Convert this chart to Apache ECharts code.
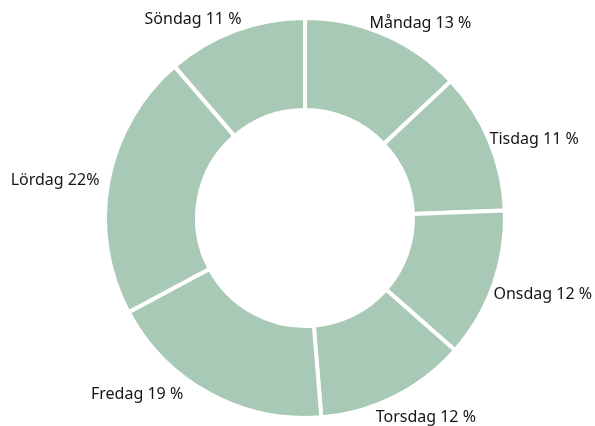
<!DOCTYPE html>
<html>
<head>
<meta charset="utf-8">
<script src="https://cdn.jsdelivr.net/npm/echarts@6/dist/echarts.min.js"></script>
<style>
	html, body { margin: 0; padding: 0; background: #fff; }
	#chart { width: 595px; height: 426px; }
</style>
</head>
<body>
<div id="chart"></div>
<script>
	// dagar och andelar (procent)
	var days = ['Måndag', 'Tisdag', 'Onsdag', 'Torsdag', 'Fredag', 'Lördag', 'Söndag'];
	var shares = [13.0, 11.4, 12.1, 12.2, 18.5, 21.5, 11.3];
	var labelTexts = ['Måndag 13 %', 'Tisdag 11 %', 'Onsdag 12 %', 'Torsdag 12 %', 'Fredag 19 %', 'Lördag 22%', 'Söndag 11 %'];

	// etiketternas finjustering (px) i förhållande till standardläget
	var labelNudge = [[-20, -11], [-5, -1], [-5, 9], [-24, 21], [-21, 1], [-4, -1], [11, -11]];

	var chart = echarts.init(document.getElementById('chart'));

	var data = [];
	for (var i = 0; i < days.length; i++) {
		data.push({ name: days[i], value: shares[i], label: { formatter: labelTexts[i] } });
	}

	chart.setOption({
		animation: false,
		series: [{
			type: 'pie',
			center: [305, 218],
			radius: [108, 200],
			startAngle: 90,
			clockwise: true,
			avoidLabelOverlap: false,
			itemStyle: {
				color: '#a8c9b6',
				borderColor: '#fff',
				borderWidth: 4
			},
			label: {
				show: true,
				position: 'outside',
				color: '#151515',
				fontSize: 16,
				fontFamily: 'Noto Sans'
			},
			labelLine: { show: false, length: 0, length2: 0 },
			labelLayout: function(params) {
				var n = labelNudge[params.dataIndex];
				return { dx: n[0], dy: n[1] };
			},
			emphasis: { disabled: true },
			data: data
		}]
	});
</script>
</body>
</html>
